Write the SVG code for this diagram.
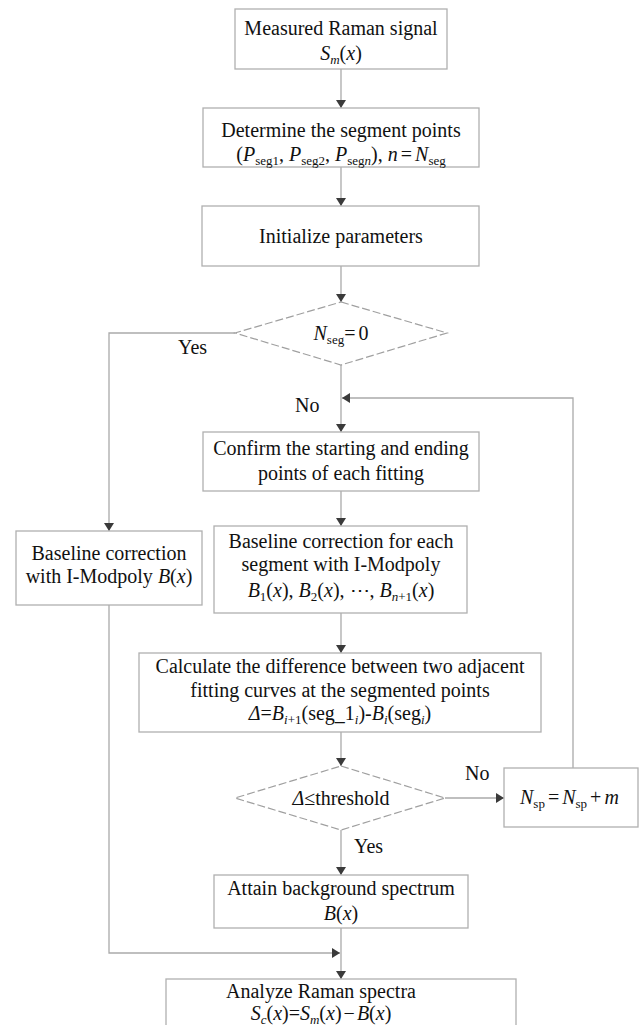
<svg xmlns="http://www.w3.org/2000/svg" width="641" height="1025" viewBox="0 0 641 1025">
<style>
text{font-family:"Liberation Serif","Times New Roman",serif;font-size:20px;fill:#111;}
.c{text-anchor:middle;}
.i{font-style:italic;}
.s{font-size:13px;}
.box{fill:#fff;stroke:#b0b0b0;stroke-width:1.3;}
.dia{fill:#fff;stroke:#a0a0a0;stroke-width:1.2;stroke-dasharray:8 3;}
.ln{fill:none;stroke:#aaa;stroke-width:1.3;}
</style>
<defs>
<marker id="ah" viewBox="0 0 8 10" refX="8" refY="5" markerWidth="8" markerHeight="10" markerUnits="userSpaceOnUse" orient="auto">
<path d="M0,0 L8,5 L0,10 z" fill="#3a3a3a"/>
</marker>
</defs>
<g id="connectors">
<line class="ln" x1="341" y1="69" x2="341" y2="108" marker-end="url(#ah)"/>
<line class="ln" x1="341" y1="167" x2="341" y2="206" marker-end="url(#ah)"/>
<line class="ln" x1="341" y1="266" x2="341" y2="302" marker-end="url(#ah)"/>
<polyline class="ln" points="235,333 109,333 109,531" marker-end="url(#ah)"/>
<line class="ln" x1="341" y1="365" x2="341" y2="432" marker-end="url(#ah)"/>
<polyline class="ln" points="573,768 573,398 342,398" marker-end="url(#ah)"/>
<line class="ln" x1="341" y1="491" x2="341" y2="526" marker-end="url(#ah)"/>
<line class="ln" x1="341" y1="613" x2="341" y2="653" marker-end="url(#ah)"/>
<line class="ln" x1="341" y1="732" x2="341" y2="766" marker-end="url(#ah)"/>
<line class="ln" x1="445" y1="798" x2="504" y2="798" marker-end="url(#ah)"/>
<line class="ln" x1="341" y1="830" x2="341" y2="875" marker-end="url(#ah)"/>
<polyline class="ln" points="109,605 109,953 340,953" marker-end="url(#ah)"/>
<line class="ln" x1="341" y1="928" x2="341" y2="979" marker-end="url(#ah)"/>
<text x="178" y="354">Yes</text>
<text x="295" y="412">No</text>
<text x="465" y="780">No</text>
<text x="354" y="853">Yes</text>
</g>
<g id="n1">
<rect class="box" x="235" y="9" width="212" height="60"/>
<text class="c" x="341" y="35">Measured Raman signal</text>
<text class="c" x="341" y="60"><tspan class="i">S</tspan><tspan class="i s" dy="4">m</tspan><tspan dy="-4">(</tspan><tspan class="i">x</tspan>)</text>
</g>
<g id="n2">
<rect class="box" x="203" y="108" width="276" height="59"/>
<text class="c" x="341" y="137">Determine the segment points</text>
<text class="c" x="341" y="161">(<tspan class="i">P</tspan><tspan class="s" dy="4">seg1</tspan><tspan dy="-4">, </tspan><tspan class="i">P</tspan><tspan class="s" dy="4">seg2</tspan><tspan dy="-4">, </tspan><tspan class="i">P</tspan><tspan class="s" dy="4">seg</tspan><tspan class="s i">n</tspan><tspan dy="-4">), </tspan><tspan class="i">n</tspan><tspan dx="3">=</tspan><tspan class="i" dx="3">N</tspan><tspan class="s" dy="4">seg</tspan></text>
</g>
<g id="n3">
<rect class="box" x="202" y="206" width="277" height="60"/>
<text class="c" x="341" y="243">Initialize parameters</text>
</g>
<g id="d1">
<polygon class="dia" points="341,302 447,333 341,365 235,333"/>
<text class="c" x="341" y="340"><tspan class="i">N</tspan><tspan class="s" dy="4">seg</tspan><tspan dy="-4">=</tspan><tspan dx="3">0</tspan></text>
</g>
<g id="n4">
<rect class="box" x="203" y="432" width="276" height="59"/>
<text class="c" x="341" y="455">Confirm the starting and ending</text>
<text class="c" x="341" y="480">points of each fitting</text>
</g>
<g id="n5">
<rect class="box" x="16" y="531" width="186" height="74"/>
<text class="c" x="109" y="560">Baseline correction</text>
<text class="c" x="109" y="583">with I-Modpoly <tspan class="i">B</tspan>(<tspan class="i">x</tspan>)</text>
</g>
<g id="n6">
<rect class="box" x="214" y="526" width="253" height="87"/>
<text class="c" x="341" y="548">Baseline correction for each</text>
<text class="c" x="341" y="571">segment with I-Modpoly</text>
<text class="c" x="341" y="597"><tspan class="i">B</tspan><tspan class="s" dy="4">1</tspan><tspan dy="-4">(</tspan><tspan class="i">x</tspan>), <tspan class="i">B</tspan><tspan class="s" dy="4">2</tspan><tspan dy="-4">(</tspan><tspan class="i">x</tspan>),  ⋯, <tspan class="i">B</tspan><tspan class="s i" dy="4">n</tspan><tspan class="s">+1</tspan><tspan dy="-4">(</tspan><tspan class="i">x</tspan>)</text>
</g>
<g id="n7">
<rect class="box" x="139" y="653" width="402" height="79"/>
<text class="c" x="340" y="673">Calculate the difference between two adjacent</text>
<text class="c" x="340" y="697">fitting curves at the segmented points</text>
<text class="c" x="340" y="720"><tspan class="i">Δ</tspan>=<tspan class="i">B</tspan><tspan class="s i" dy="4">i</tspan><tspan class="s">+1</tspan><tspan dy="-4">(seg_1</tspan><tspan class="s i" dy="4">i</tspan><tspan dy="-4">)-</tspan><tspan class="i">B</tspan><tspan class="s i" dy="4">i</tspan><tspan dy="-4">(seg</tspan><tspan class="s i" dy="4">i</tspan><tspan dy="-4">)</tspan></text>
</g>
<g id="d2">
<polygon class="dia" points="341,766 445,798 341,830 235,798"/>
<text class="c" x="341" y="805"><tspan class="i">Δ</tspan>≤threshold</text>
</g>
<g id="n8">
<rect class="box" x="504" y="768" width="134" height="59"/>
<text x="520" y="804"><tspan class="i">N</tspan><tspan class="s" dy="4">sp</tspan><tspan dy="-4" dx="3">=</tspan><tspan class="i" dx="3">N</tspan><tspan class="s" dy="4">sp</tspan><tspan dy="-4" dx="3">+</tspan><tspan class="i" dx="3">m</tspan></text>
</g>
<g id="n9">
<rect class="box" x="214" y="875" width="254" height="53"/>
<text class="c" x="341" y="895">Attain background spectrum</text>
<text class="c" x="341" y="920"><tspan class="i">B</tspan>(<tspan class="i">x</tspan>)</text>
</g>
<g id="n10">
<rect class="box" x="166" y="979" width="350" height="60"/>
<text class="c" x="321" y="998">Analyze Raman spectra</text>
<text class="c" x="321" y="1020"><tspan class="i">S</tspan><tspan class="s i" dy="4">c</tspan><tspan dy="-4">(</tspan><tspan class="i">x</tspan>)=<tspan class="i">S</tspan><tspan class="s i" dy="4">m</tspan><tspan dy="-4">(</tspan><tspan class="i">x</tspan>)<tspan dx="2">−</tspan><tspan class="i" dx="2">B</tspan>(<tspan class="i">x</tspan>)</text>
</g>
</svg>
